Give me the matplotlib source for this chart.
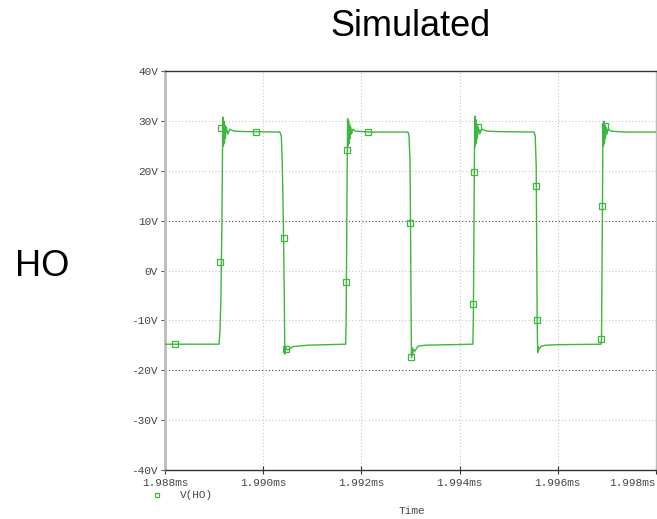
import matplotlib
matplotlib.use("Agg")
import matplotlib.pyplot as plt

# Waveform V(HO): time (ms) and voltage (V)
time_ms = [
    1.98800, 1.98910, 1.98912, 1.98914, 1.98916, 1.98917, 1.98918, 1.98919, 1.98920,
    1.98921, 1.98922, 1.98923, 1.98925, 1.98928, 1.98932, 1.98940, 1.98960, 1.99034,
    1.99037, 1.99039, 1.99041, 1.99043, 1.99044, 1.99046, 1.99050, 1.99060, 1.99090,
    1.99168, 1.99169, 1.99170, 1.99171, 1.99172, 1.99173, 1.99174, 1.99175, 1.99176,
    1.99177, 1.99178, 1.99180, 1.99183, 1.99187, 1.99200, 1.99220, 1.99295, 1.99297,
    1.99299, 1.99300, 1.99301, 1.99302, 1.99303, 1.99304, 1.99306, 1.99309, 1.99315,
    1.99330, 1.99427, 1.99428, 1.99429, 1.99430, 1.99431, 1.99432, 1.99433, 1.99434,
    1.99435, 1.99436, 1.99438, 1.99441, 1.99445, 1.99455, 1.99475, 1.99552, 1.99554,
    1.99556, 1.99557, 1.99558, 1.99559, 1.99560, 1.99562, 1.99566, 1.99575, 1.99600,
    1.99688, 1.99689, 1.99690, 1.99691, 1.99692, 1.99693, 1.99694, 1.99695, 1.99696,
    1.99697, 1.99698, 1.99700, 1.99703, 1.99708, 1.99720, 1.99740, 1.99800,
]
volts = [
    -14.8, -14.8, -12.3, -5.0, 10.0, 22.0, 30.8, 25.0, 30.0,
    25.5, 29.2, 26.5, 28.8, 27.4, 28.4, 28.0, 27.9, 27.8,
    27.0, 21.0, 10.0, -5.0, -16.8, -15.5, -16.0, -15.3, -15.0,
    -14.8, -10.0, 5.0, 20.0, 30.5, 25.0, 30.0, 25.5, 29.3,
    26.5, 28.8, 27.4, 28.4, 28.0, 27.9, 27.8, 27.8, 27.0,
    22.0, 10.0, -5.0, -17.5, -15.5, -17.0, -15.8, -16.2, -15.2,
    -15.0, -14.8, -10.0, 5.0, 20.0, 31.0, 25.0, 30.3, 25.5,
    29.4, 26.5, 28.8, 27.4, 28.4, 28.0, 27.9, 27.8, 27.0,
    21.0, 5.0, -10.0, -16.5, -15.3, -15.8, -15.2, -15.0, -14.9,
    -14.8, -13.5, 0.0, 14.0, 29.5, 25.0, 30.0, 25.5, 29.2,
    26.5, 28.8, 27.4, 28.4, 28.0, 27.9, 27.8, 27.8,
]

# Trace marker squares
marker_t = [1.98820, 1.98913, 1.98914, 1.98985, 1.99042, 1.99046, 1.99169, 1.99171,
            1.99214, 1.99300, 1.99302, 1.99428, 1.99429, 1.99437, 1.99556, 1.99558,
            1.99688, 1.99691, 1.99696]
marker_v = [-14.8, 1.8, 28.6, 27.8, 6.5, -15.8, -2.4, 24.2,
            27.8, 9.5, -17.3, -6.7, 19.8, 28.8, 16.9, -10.0,
            -13.7, 12.9, 29.0]

x_ticks = [1.988, 1.990, 1.992, 1.994, 1.996, 1.998]
x_labels = ["1.988ms", "1.990ms", "1.992ms", "1.994ms", "1.996ms", "1.998ms"]
y_ticks = [-40, -30, -20, -10, 0, 10, 20, 30, 40]
y_labels = ["-40V", "-30V", "-20V", "-10V", "0V", "10V", "20V", "30V", "40V"]

green = "#3cb83c"
mono = "Liberation Mono"

fig = plt.figure(figsize=(6.57, 5.19), dpi=100)
ax = fig.add_axes([0.2511, 0.095, 0.7474, 0.7676])

# grid
for yv in y_ticks[1:-1]:
    dark = yv in (10, -20)
    ax.axhline(yv, color="#444444" if dark else "#c8c8c8", lw=0.8,
               ls=(0, (1, 2)), zorder=0)
for xv in x_ticks[1:-1]:
    ax.axvline(xv, color="#c8c8c8", lw=0.8, ls=(0, (1, 2)), zorder=0)

ax.plot(time_ms, volts, color=green, lw=1.0, zorder=3)
ax.plot(marker_t, marker_v, ls="none", marker="s", ms=4, mfc="none",
        mec=green, mew=0.9, zorder=4)

ax.set_xlim(1.988, 1.998)
ax.set_ylim(-40, 40)
ax.set_xticks(x_ticks)
ax.set_xticklabels(x_labels, family=mono, fontsize=8, color="#444444")
ax.set_yticks(y_ticks)
ax.set_yticklabels(y_labels, family=mono, fontsize=8, color="#444444")
ax.tick_params(axis="x", direction="inout", length=6, width=0.8, pad=3, colors="#333333",
               labelcolor="#444444")
ax.tick_params(axis="y", direction="out", length=3, width=0.8, pad=2, colors="#555555",
               labelcolor="#444444")
ax.get_xticklabels()[-1].set_horizontalalignment("right")

ax.spines["left"].set_color("#bbbbbb")
ax.spines["left"].set_linewidth(2.0)
ax.spines["right"].set_color("#bbbbbb")
ax.spines["right"].set_linewidth(1.0)
ax.spines["top"].set_color("#333333")
ax.spines["top"].set_linewidth(1.0)
ax.spines["bottom"].set_color("#333333")
ax.spines["bottom"].set_linewidth(1.0)

# texts
fig.text(410 / 657, 1 - 26 / 519, "Simulated", ha="center", va="center",
         fontsize=26, family="Liberation Sans")
fig.text(42 / 657, 1 - 267 / 519, "HO", ha="center", va="center",
         fontsize=26, family="Liberation Sans")
fig.text(412 / 657, 1 - 511 / 519, "Time", ha="center", va="center",
         fontsize=8, family=mono, color="#444444")
fig.text(180 / 657, 1 - 495 / 519, "V(HO)", ha="left", va="center",
         fontsize=8, family=mono, color="#444444")
fig.lines.append(plt.Line2D([157 / 657], [1 - 495 / 519], transform=fig.transFigure,
                            ls="none", marker="s", ms=3.5, mfc="none", mec=green, mew=0.9))

fig.savefig("out.png", dpi=100)
